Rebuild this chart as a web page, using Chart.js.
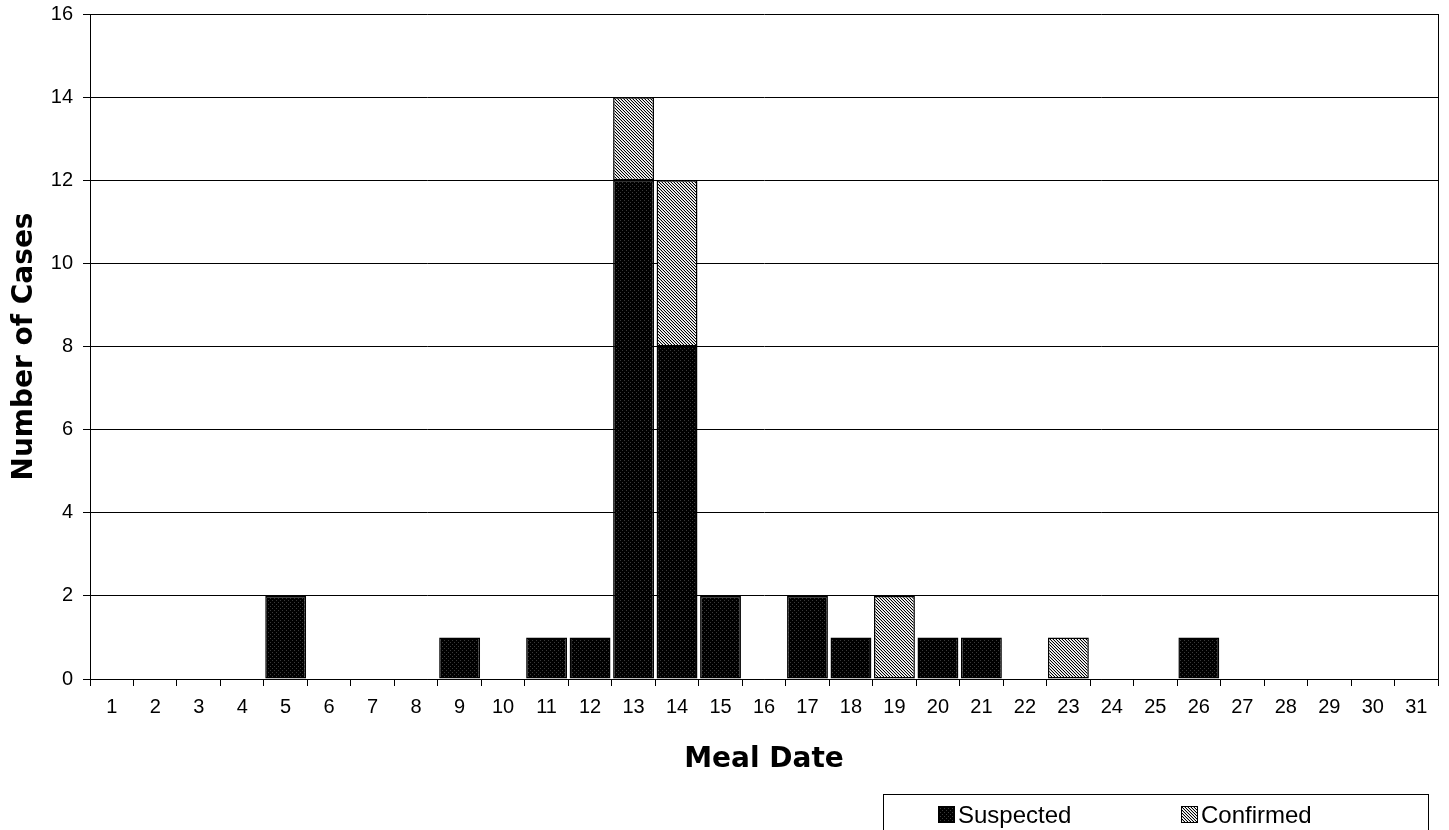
<!DOCTYPE html>
<html>
<head>
<meta charset="utf-8">
<script src="https://cdn.jsdelivr.net/npm/chart.js@4.4.0/dist/chart.umd.min.js"></script>
<style>
  html, body { margin: 0; padding: 0; background: #fff; }
  #wrap { width: 1449px; height: 830px; }
</style>
</head>
<body>
<div id="wrap"><canvas id="cases"></canvas></div>
<script>
// Meal dates 1..31
const mealDates = ['1','2','3','4','5','6','7','8','9','10','11','12','13','14','15','16',
                   '17','18','19','20','21','22','23','24','25','26','27','28','29','30','31'];

// Case counts per meal date
const suspected = [0,0,0,0,2,0,0,0,1,0,1,1,12,8,2,0,2,1,0,1,1,0,0,0,0,1,0,0,0,0,0];
const confirmed = [0,0,0,0,0,0,0,0,0,0,0,0,2,4,0,0,0,0,2,0,0,0,1,0,0,0,0,0,0,0,0];

const yTicks = [0, 2, 4, 6, 8, 10, 12, 14, 16];

// fill patterns like the old office charts
function makePattern(size, draw) {
    const c = document.createElement('canvas');
    c.width = size; c.height = size;
    const p = c.getContext('2d');
    draw(p);
    return p.createPattern(c, 'repeat');
}

const darkFill = makePattern(4, (p) => {
    p.fillStyle = '#000';
    p.fillRect(0, 0, 4, 4);
    p.fillStyle = '#3a3a3a';
    p.fillRect(0, 0, 1, 1);
    p.fillRect(2, 2, 1, 1);
});

const hatchFill = makePattern(3, (p) => {
    const cols = ['#000', '#fff', '#c8c8c8'];
    for (let y = 0; y < 3; y++) {
        for (let x = 0; x < 3; x++) {
            p.fillStyle = cols[((x - y) % 3 + 3) % 3];
            p.fillRect(x, y, 1, 1);
        }
    }
});

// right border of plot area
const frame = {
    id: 'frame',
    afterDatasetsDraw(chart) {
        const { ctx, chartArea: a } = chart;
        ctx.save();
        ctx.strokeStyle = '#000';
        ctx.lineWidth = 1;
        ctx.beginPath();
        ctx.moveTo(Math.round(a.right) + 0.5, a.top);
        ctx.lineTo(Math.round(a.right) + 0.5, a.bottom);
        ctx.stroke();
        ctx.restore();
    }
};

// boxed legend at the bottom right
const boxLegend = {
    id: 'boxLegend',
    afterDraw(chart) {
        const ctx = chart.ctx;
        const items = [{ x: 938 }, { x: 1181 }];
        ctx.save();
        ctx.strokeStyle = '#000';
        ctx.lineWidth = 1;
        ctx.strokeRect(883.5, 794.5, 545, 60);
        ctx.font = '24px "Liberation Sans", Arial, sans-serif';
        ctx.textBaseline = 'alphabetic';
        chart.data.datasets.forEach((ds, i) => {
            const x = items[i].x;
            ctx.fillStyle = ds.backgroundColor;
            ctx.fillRect(x, 806, 17, 17);
            ctx.strokeRect(x + 0.5, 806.5, 16, 16);
            ctx.fillStyle = '#000';
            ctx.fillText(ds.label, x + 20, 823);
        });
        ctx.restore();
    }
};

const ctx = document.getElementById('cases').getContext('2d');

const casesChart = new Chart(ctx, {
    type: 'bar',
    data: {
        labels: mealDates,
        datasets: [{
            label: 'Suspected',
            data: suspected,
            backgroundColor: darkFill,
            borderColor: '#000',
            borderWidth: 1.5,
            borderSkipped: false
        }, {
            label: 'Confirmed',
            data: confirmed,
            backgroundColor: hatchFill,
            borderColor: '#000',
            borderWidth: 1.5,
            borderSkipped: false
        }]
    },
    options: {
        responsive: true,
        maintainAspectRatio: false,
        animation: false,
        layout: { padding: { top: 14, right: 11, bottom: 40, left: 0 } },
        plugins: {
            legend: { display: false },
            tooltip: { enabled: false }
        },
        datasets: {
            bar: { barPercentage: 0.94, categoryPercentage: 1.0 }
        },
        scales: {
            x: {
                stacked: true,
                grid: { drawOnChartArea: false, offset: true, tickLength: 7, color: '#000' },
                border: { color: '#000', width: 1 },
                ticks: {
                    color: '#000',
                    padding: 9,
                    maxRotation: 0,
                    autoSkip: false,
                    font: { family: '"Liberation Sans", Arial, sans-serif', size: 20 }
                },
                title: {
                    display: true,
                    text: 'Meal Date',
                    color: '#000',
                    padding: { top: 0, bottom: 13 },
                    font: { family: '"DejaVu Sans", Verdana, sans-serif', size: 28, weight: 'bold' }
                },
                afterFit(scale) {
                    scale.height = 111;
                    scale.paddingLeft = 0;
                    scale.paddingRight = 0;
                }
            },
            y: {
                stacked: true,
                min: 0,
                max: 16,
                afterBuildTicks(scale) { scale.ticks = yTicks.map(v => ({ value: v })); },
                grid: { color: '#000', tickLength: 7 },
                border: { color: '#000', width: 1 },
                ticks: {
                    color: '#000',
                    padding: 10,
                    font: { family: '"Liberation Sans", Arial, sans-serif', size: 20 }
                },
                title: {
                    display: true,
                    text: 'Number of Cases',
                    color: '#000',
                    padding: { top: 8, bottom: 0 },
                    font: { family: '"DejaVu Sans", Verdana, sans-serif', size: 28, weight: 'bold' }
                },
                afterFit(scale) {
                    scale.width = 90;
                    scale.paddingTop = 0;
                    scale.paddingBottom = 0;
                }
            }
        }
    },
    plugins: [frame, boxLegend]
});
</script>
</body>
</html>
